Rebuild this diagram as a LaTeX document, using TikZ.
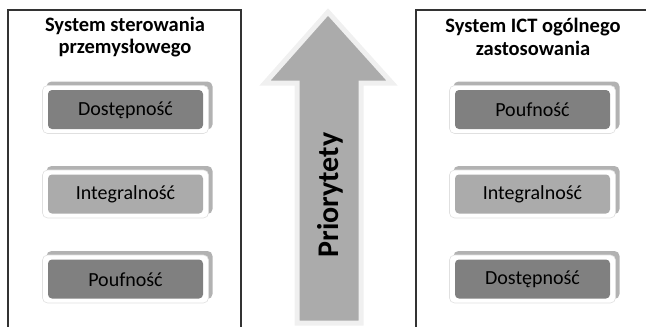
\documentclass[tikz,border=0pt]{standalone}
\usepackage{fontspec}
\setmainfont{Carlito}
\tikzset{
  panel/.style={draw=black!80, line width=1.2pt},
  title/.style={font=\fontsize{20.5}{22.5}\selectfont\bfseries, align=center, inner sep=0pt},
  darkbox/.style={fill=black!50},
  lightbox/.style={fill=black!33},
  lbl/.style={font=\fontsize{20}{22}\selectfont, inner sep=0pt},
}
\newcommand{\qbox}[4]{% name, cx, cy, style
  \fill[black!30, rounded corners=5pt] (#2-79,-#3-20) rectangle (#2+87,-#3+28);
  \filldraw[fill=white, draw=black!12, line width=0.6pt, rounded corners=5pt] (#2-83,-#3-24) rectangle (#2+83,-#3+24);
  \fill[#4, rounded corners=4pt] (#2-77.5,-#3-19.5) rectangle (#2+77.5,-#3+19.5);
}
\begin{document}
\begin{tikzpicture}[x=1pt,y=1pt]
\useasboundingbox (0,0) rectangle (646,-327);
% panels
\draw[panel] (8,-330) -- (8,-10) -- (241,-10) -- (241,-330);
\draw[panel] (416,-330) -- (416,-10) -- (650,-10);
\node[title] (t1) at (125,-37) {System sterowania\\przemysłowego};
\node[title] (t2) at (533,-37) {System ICT ogólnego\\zastosowania};
% left boxes
\qbox{b1}{125.5}{109.5}{darkbox}
\node[lbl] (l1) at (125.5,-110) {Dostępność};
\qbox{b2}{125.5}{194}{lightbox}
\node[lbl] (l2) at (125.5,-194.5) {Integralność};
\qbox{b3}{125.5}{279}{darkbox}
\node[lbl] (l3) at (125.5,-279.5) {Poufność};
% right boxes
\qbox{c1}{532.5}{109.5}{darkbox}
\node[lbl] (r1) at (532.5,-110) {Poufność};
\qbox{c2}{532.5}{194}{lightbox}
\node[lbl] (r2) at (532.5,-194.5) {Integralność};
\qbox{c3}{532.5}{279}{darkbox}
\node[lbl] (r3) at (532.5,-279.5) {Dostępność};
% arrow
\filldraw[fill=black!33, draw=black!6, line width=5pt, line join=miter]
  (297,-323) -- (297,-83) -- (265,-83) -- (328,-12) -- (392,-83) -- (361,-83) -- (361,-323) -- cycle;
\node[rotate=90, font=\fontsize{30}{34}\selectfont\bfseries, inner sep=0pt] (p) at (330,-195) {Priorytety};
\end{tikzpicture}
\end{document}
